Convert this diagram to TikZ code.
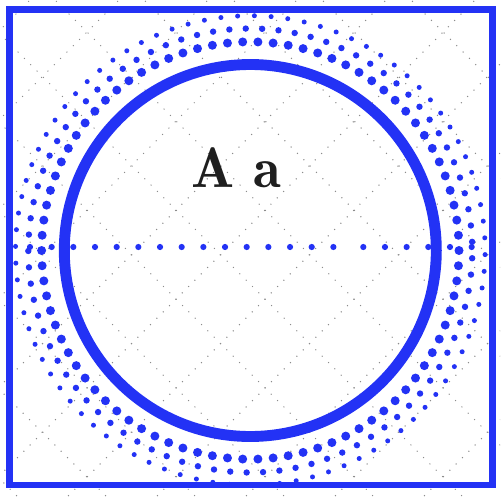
\documentclass[tikz,border=0pt]{standalone}
\usepackage{fontspec}
\newfontfamily\aafont{lmromandemi10-regular.otf}
\definecolor{ringblue}{RGB}{35,50,245}
\tikzset{
  gridline/.style={draw=black!45, line width=0.85pt, dash pattern=on 0pt off 5.1pt, line cap=round},
  framebox/.style={draw=ringblue, line width=3.8pt},
  bigcircle/.style={draw=ringblue, line width=6.2pt},
  dotfill/.style={fill=ringblue}
}
\begin{document}
\begin{tikzpicture}[x=0.02cm,y=-0.02cm]
\useasboundingbox (0,0) rectangle (500,500);
\begin{scope}
\clip (0,0) rectangle (500,500);
\foreach \c in {-59,30,...,1009} \draw[gridline] (\c+100,-100) -- (\c-600,600);
\foreach \d in {-568,-479,...,500} \draw[gridline] (\d-100,-100) -- (\d+600,600);
\end{scope}
\coordinate (c) at (250.3,250.5);
\draw[framebox] (9.5,9.5) rectangle (492.5,485);
\draw[bigcircle] (c) circle[radius=186];
\foreach \a in {0,...,85} \fill[dotfill] (c) ++({\a*(360/86)}:208.7) circle[radius=4.5];
\foreach \a in {0,...,84} \fill[dotfill] (c) ++({2+\a*(360/85)}:222) circle[radius=3.2];
\foreach \a in {0,...,87} \fill[dotfill] (c) ++({1+\a*(360/88)}:234.8) circle[radius=2.5];
\foreach \i in {0,...,14} \fill[dotfill] (30+21.67*\i,247) circle[radius=3.1];
\foreach \i in {0,...,5} \fill[dotfill] (363.3+21.67*\i,247) circle[radius=3.1];
\node[font=\aafont\fontsize{32.5}{36}\selectfont, anchor=base, text=black!88, inner sep=0pt] (t) at (236,187) {A a};
\end{tikzpicture}
\end{document}
